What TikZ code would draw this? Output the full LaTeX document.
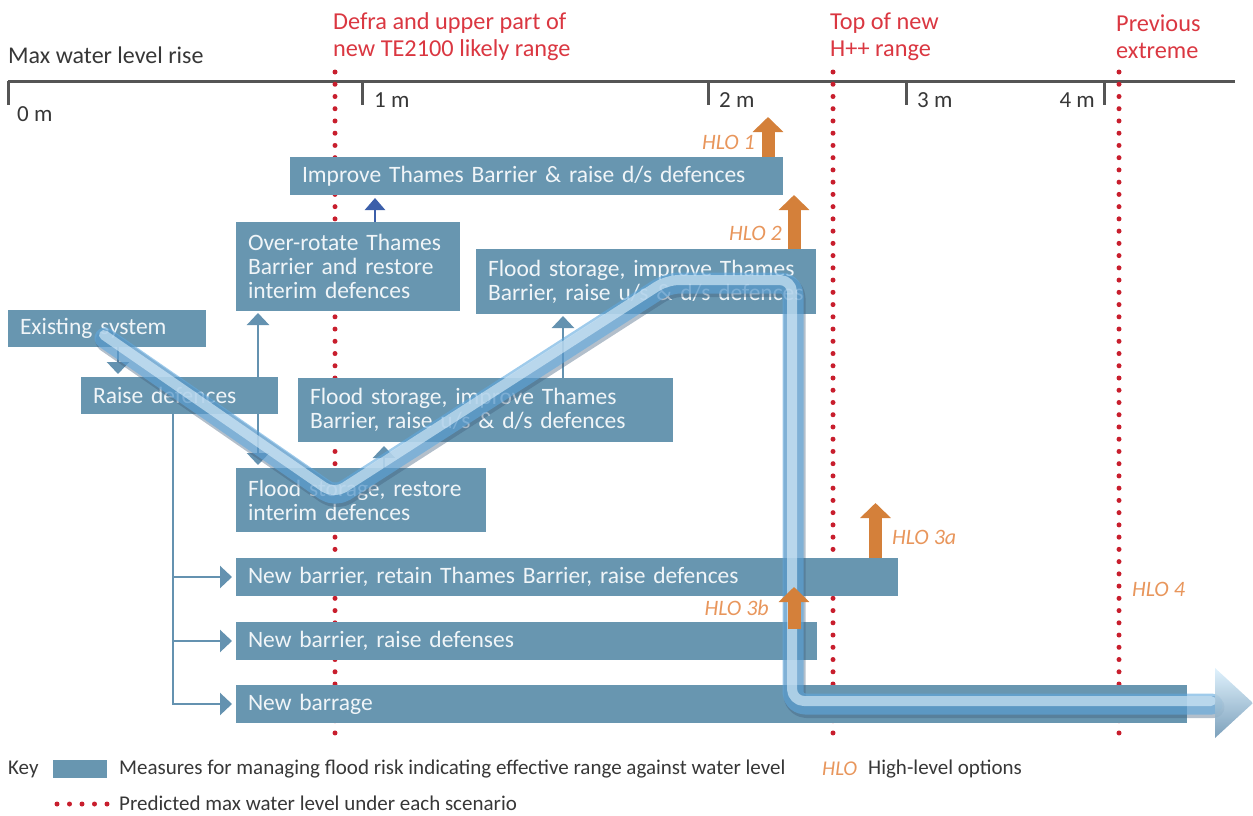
\documentclass[tikz,border=0pt]{standalone}
\usepackage{fontspec}
\setmainfont{Carlito}
\usetikzlibrary{arrows.meta,calc}
\definecolor{boxblue}{RGB}{104,150,176}
\definecolor{boxtext}{RGB}{240,245,248}
\definecolor{connblue}{RGB}{100,146,176}
\definecolor{darkarrow}{RGB}{60,95,170}
\definecolor{dotred}{RGB}{200,30,45}
\definecolor{labred}{RGB}{218,55,65}
\definecolor{hloorange}{RGB}{212,128,58}
\definecolor{hlotext}{RGB}{232,150,92}
\definecolor{axisgray}{RGB}{85,85,85}
\definecolor{textgray}{RGB}{55,55,55}
\definecolor{bandblue}{RGB}{95,168,222}
\definecolor{bandshadow}{RGB}{65,95,125}
\definecolor{bandlight}{RGB}{225,242,252}
\begin{document}
\begin{tikzpicture}[x=1pt,y=-1pt,
  box/.style={fill=boxblue, text=boxtext, anchor=north west, inner xsep=12pt, inner ysep=0pt, outer sep=0pt, align=left, font=\fontsize{23.5}{24}\selectfont},
  conn/.style={draw=connblue, line width=2.5pt, -{Triangle[width=22pt,length=12pt]}},
  darkconn/.style={draw=darkarrow, line width=2.5pt, -{Triangle[width=20pt,length=12pt]}},
  hlo/.style={draw=hloorange, line width=13pt, -{Triangle[width=30pt,length=15pt]}},
  hlolab/.style={text=hlotext, font=\fontsize{22}{22}\selectfont\itshape, inner sep=0pt},
  axlab/.style={text=textgray, font=\fontsize{23}{23}\selectfont, inner sep=0pt},
  redlab/.style={text=labred, font=\fontsize{24.3}{27}\selectfont, inner sep=0pt, align=left, anchor=west},
  keylab/.style={text=textgray, font=\fontsize{21}{21}\selectfont, inner sep=0pt, anchor=west},
  dotline/.style={draw=dotred, line width=5pt, line cap=round, dash pattern=on 0pt off 12.24pt},
  keydots/.style={draw=dotred, line width=5pt, line cap=round, dash pattern=on 0pt off 12.5pt},
  axisline/.style={draw=axisgray, line width=3pt},
  bandpath/.style={rounded corners=12pt, line cap=round, line join=round}
]
\useasboundingbox (0,0) rectangle (1253,815);

% axis
\draw[axisline] (8,81) -- (1235,81);
\draw[axisline] (8,81) -- (8,105);
\draw[axisline] (362,81) -- (362,105);
\draw[axisline] (708,81) -- (708,105);
\draw[axisline] (906,81) -- (906,105);
\draw[axisline] (1104,81) -- (1104,105);
\node[axlab, anchor=west, font=\fontsize{24}{24}\selectfont] (title) at (8,55) {Max water level rise};
\node[axlab, anchor=west] (m0) at (17,114) {0 m};
\node[axlab, anchor=west] (m1) at (374,100) {1 m};
\node[axlab, anchor=west] (m2) at (719,100) {2 m};
\node[axlab, anchor=west] (m3) at (917,100) {3 m};
\node[axlab, anchor=east] (m4) at (1095,100) {4 m};

% scenario lines
\draw[dotline] (335,72) -- (335,745);
\draw[dotline] (833,72) -- (833,745);
\draw[dotline] (1119,72) -- (1119,745);
\node[redlab] (defra) at (333,36.5) {Defra and upper part of\\new TE2100 likely range};
\node[redlab] (hpp) at (830,36.5) {Top of new\\H++ range};
\node[redlab] (prev) at (1116,36.5) {Previous\\extreme};

% boxes
\node[box, text width=174pt, minimum height=37pt] (exist) at (8,310) {Existing system};
\node[box, text width=173pt, minimum height=37pt] (raise) at (81,377) {Raise defences};
\node[box, text width=200pt, minimum height=89pt] (over) at (236,222) {Over-rotate Thames\\Barrier and restore\\interim defences};
\node[box, text width=469pt, minimum height=38pt] (improve) at (290,157) {Improve Thames Barrier \& raise d/s defences};
\node[box, text width=316pt, minimum height=65pt] (fstop) at (476,249) {Flood storage, improve Thames\\Barrier, raise u/s \& d/s defences};
\node[box, text width=351pt, minimum height=64pt] (fsmid) at (298,378) {Flood storage, improve Thames\\Barrier, raise u/s \& d/s defences};
\node[box, text width=226pt, minimum height=64pt] (fsres) at (236,468) {Flood storage, restore\\interim defences};
\node[box, text width=638pt, minimum height=38pt] (nbretain) at (236,558) {New barrier, retain Thames Barrier, raise defences};
\node[box, text width=557pt, minimum height=38pt] (nbraise) at (236,622) {New barrier, raise defenses};
\node[box, text width=927pt, minimum height=38pt] (barrage) at (236,685) {New barrage};

% connectors
\draw[conn, shorten >=3pt] ([xshift=110pt]exist.south west) -- ([xshift=37pt]raise.north west);
\draw[conn, shorten >=2pt] ([xshift=177pt]raise.north west) -- ([xshift=22pt]over.south west);
\draw[conn, shorten >=3pt] ([xshift=177pt]raise.south west) -- ([xshift=22pt]fsres.north west);
\draw[conn, shorten >=4pt] ([xshift=148pt]fsres.north west) -- ([xshift=86pt]fsmid.south west);
\draw[conn, shorten >=2pt] ([xshift=265pt]fsmid.north west) -- ([xshift=87pt]fstop.south west);
\draw[darkconn, shorten >=3pt] ([xshift=139pt]over.north west) -- ([xshift=85pt]improve.south west);
\coordinate (trunk) at ([xshift=92pt]raise.south west);
\draw[conn, shorten >=4pt] (trunk) |- (barrage.west);
\draw[conn, shorten >=4pt] (trunk |- nbretain.west) -- (nbretain.west);
\draw[conn, shorten >=4pt] (trunk |- nbraise.west) -- (nbraise.west);

% scenario band
\draw[bandshadow, line width=22pt, opacity=0.40, bandpath, transform canvas={shift={(1.5pt,-3pt)}}]
  (105,338) -- (335,497) -- (668,283) -- (793,283) -- (793,704) -- (1212,704);
\draw[bandblue, line width=21pt, opacity=0.60, bandpath]
  (105,338) -- (335,497) -- (668,283) -- (793,283) -- (793,704) -- (1212,704);
\draw[bandlight, line width=10pt, opacity=0.60, bandpath, transform canvas={shift={(-1pt,3pt)}}]
  (105,338) -- (335,497) -- (668,283) -- (793,283) -- (793,704) -- (1212,704);
\shade[top color={rgb,255:red,220;green,240;blue,252}, bottom color={rgb,255:red,110;green,150;blue,180}, opacity=0.9]
  (1215,668) -- (1253,703) -- (1215,738) -- cycle;

% high-level options
\draw[hlo] ([xshift=478pt]improve.north west) -- ++(0,-40);
\draw[hlo] ([xshift=318pt]fstop.north west) -- ++(0,-54);
\draw[hlo] ([xshift=639.5pt]nbretain.north west) -- ++(0,-55);
\draw[hlo] ([xshift=558pt,yshift=-7pt]nbraise.north west) -- ++(0,-42);
\node[hlolab, anchor=east] (h1) at (755,142) {HLO 1};
\node[hlolab, anchor=east] (h2) at (782,233) {HLO 2};
\node[hlolab, anchor=west] (h3a) at (892,537) {HLO 3a};
\node[hlolab, anchor=east] (h3b) at (769,608) {HLO 3b};
\node[hlolab, anchor=west] (h4) at (1132,589) {HLO 4};

% key
\node[keylab] (key) at (8,769) {Key};
\node[fill=boxblue, minimum width=54pt, minimum height=18pt, anchor=north west, inner sep=0pt, outer sep=0pt] (swatch) at (53,760) {};
\node[keylab] (keymeas) at (119,769) {Measures for managing flood risk indicating effective range against water level};
\node[keylab, text=hlotext, font=\fontsize{21}{21}\selectfont\itshape] (keyhlo) at (822,769) {HLO};
\node[keylab] (keyhlotxt) at (868,769) {High-level options};
\draw[keydots] (57,804) -- (107,804);
\node[keylab] (keypred) at (119,803) {Predicted max water level under each scenario};
\end{tikzpicture}
\end{document}
